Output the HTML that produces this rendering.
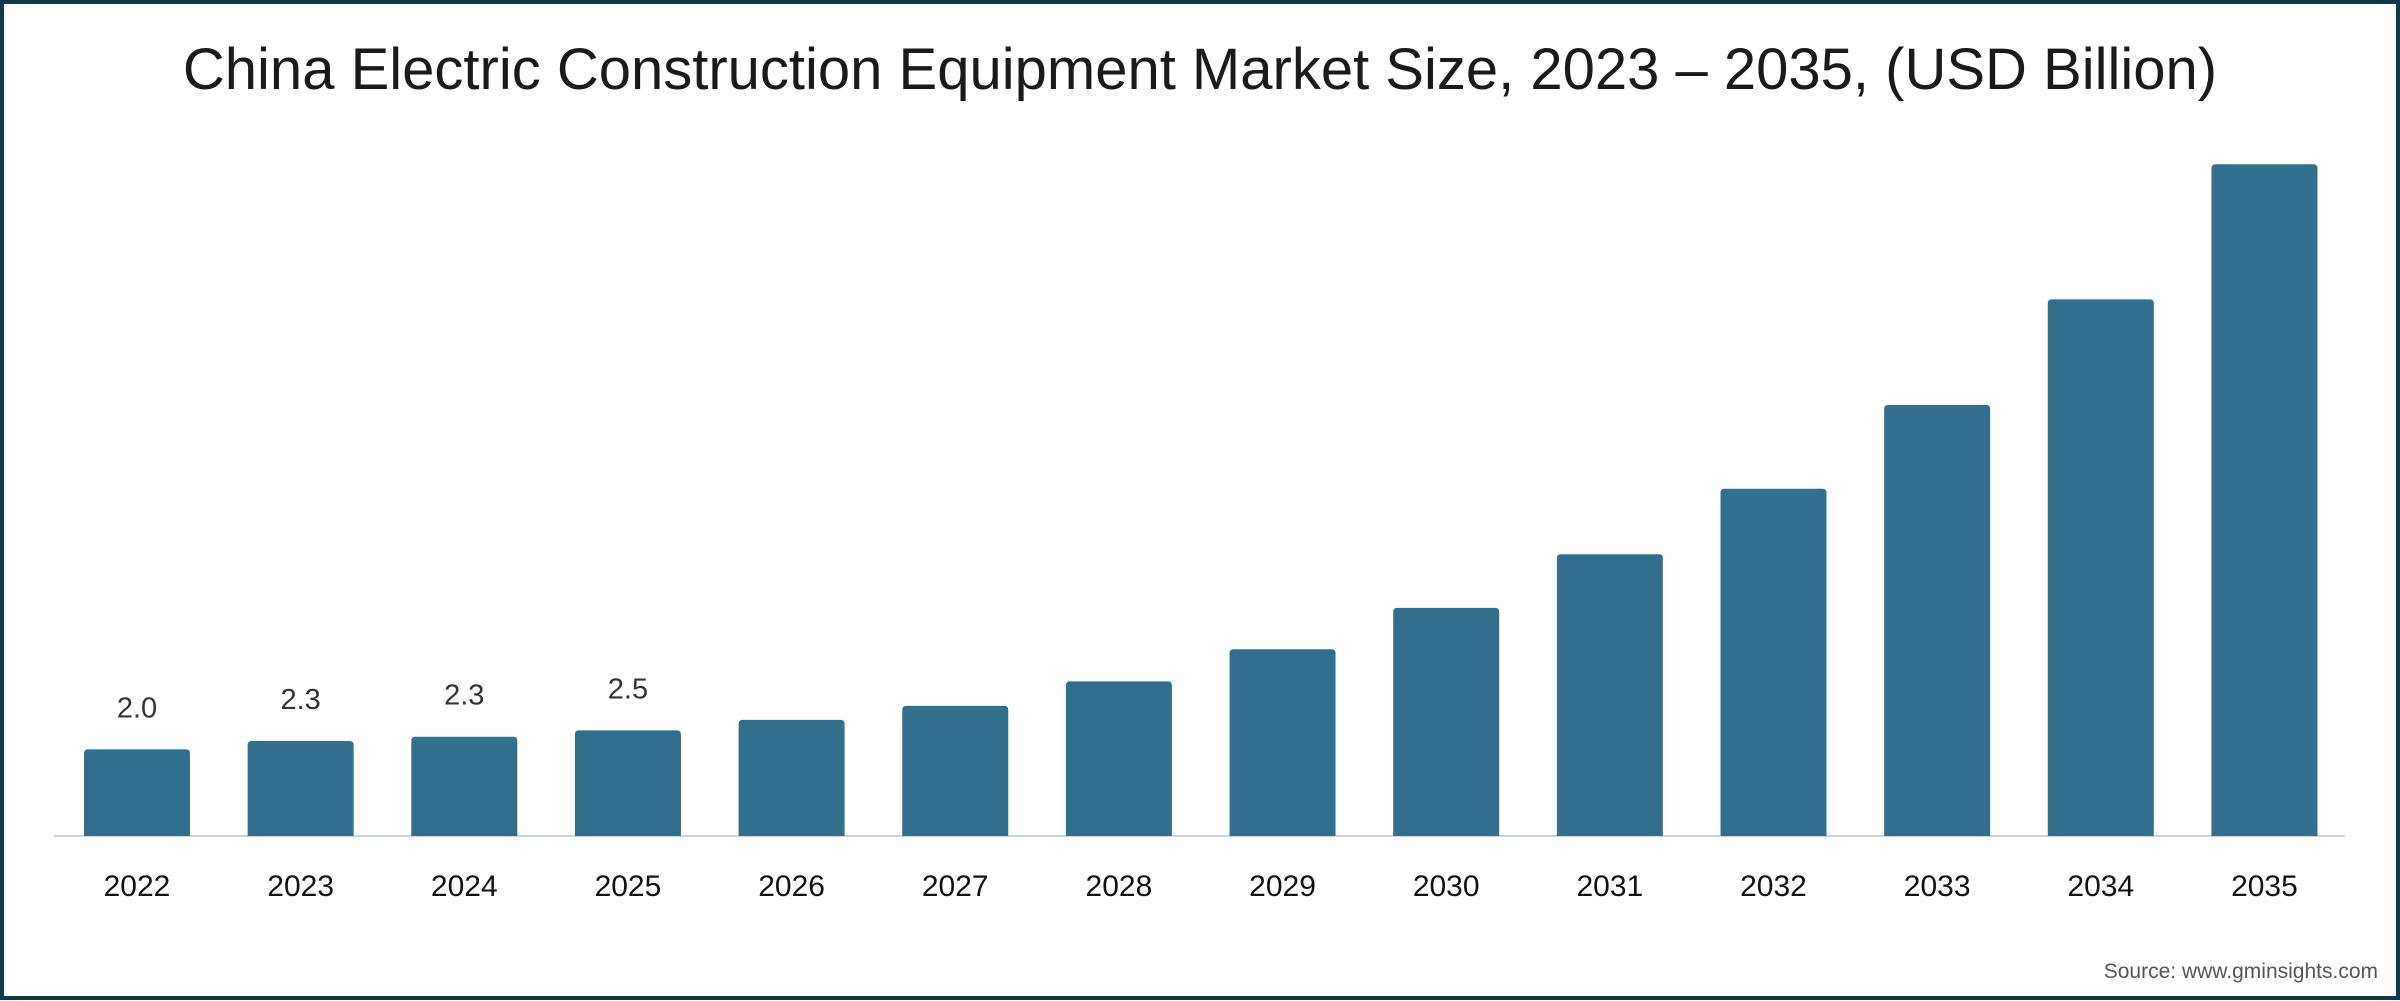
<!DOCTYPE html>
<html><head><meta charset="utf-8"><style>
html,body{margin:0;padding:0;background:#fff}
#frame{position:relative;width:2400px;height:1000px;box-sizing:border-box;border:4px solid #0f3a4a;background:#fff}
svg text{font-family:"Liberation Sans",sans-serif}
</style></head><body>
<div id="frame">
<svg id="chart" width="2392" height="992" viewBox="4 4 2392 992">
<text x="1200" y="89" text-anchor="middle" font-size="58" fill="#1a1a1a">China Electric Construction Equipment Market Size, 2023 – 2035, (USD Billion)</text>
<line x1="54" y1="836" x2="2345" y2="836" stroke="#c8d3e3" stroke-width="2"/>
<g id="bars"></g>
<text x="2378" y="978" text-anchor="end" font-size="21" fill="#555">Source: www.gminsights.com</text>
</svg>
</div>
<script>
const categories = ["2022","2023","2024","2025","2026","2027","2028","2029","2030","2031","2032","2033","2034","2035"];
const values = [2.05,2.25,2.35,2.5,2.75,3.08,3.66,4.42,5.4,6.67,8.22,10.2,12.7,15.9];
const valueLabels = ["2.0","2.3","2.3","2.5","","","","","","","","","",""];
const baseY = 836, pxPerUnit = 42.25, x0 = 137, step = 163.65, barW = 106;
function xScale(i){return x0 + i*step;}
function yScale(v){return baseY - v*pxPerUnit;}
const g = document.getElementById('bars');
const NS = "http://www.w3.org/2000/svg";
categories.forEach((c,i)=>{
  const cx = xScale(i), top = yScale(values[i]);
  const r = document.createElementNS(NS,'path');
  const x = cx - barW/2, rad = 4;
  r.setAttribute('d',`M${x},${baseY} V${top+rad} Q${x},${top} ${x+rad},${top} H${x+barW-rad} Q${x+barW},${top} ${x+barW},${top+rad} V${baseY} Z`);
  r.setAttribute('fill','#316f8c');
  
  
  g.appendChild(r);
  const t = document.createElementNS(NS,'text');
  t.setAttribute('x',cx);t.setAttribute('y',896);
  t.setAttribute('text-anchor','middle');t.setAttribute('font-size','30');t.setAttribute('fill','#111');
  t.textContent = c;
  
  
  g.appendChild(t);
  if(valueLabels[i]){
    const v = document.createElementNS(NS,'text');
    v.setAttribute('x',cx);v.setAttribute('y',top-32);
    v.setAttribute('text-anchor','middle');v.setAttribute('font-size','29');v.setAttribute('fill','#333');
    v.textContent = valueLabels[i];
    
    
    g.appendChild(v);
  }
});
</script>
</body></html>
